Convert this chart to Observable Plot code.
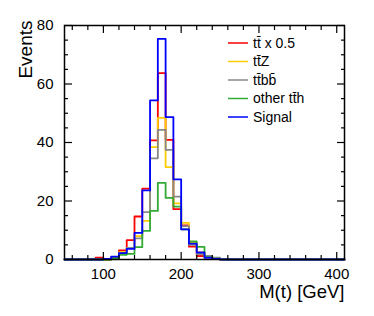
<!DOCTYPE html>
<html><head><meta charset="utf-8">
<script src="https://cdn.jsdelivr.net/npm/d3@7"></script>
<script src="https://cdn.jsdelivr.net/npm/@observablehq/plot@0.6"></script>
<style>
body{margin:0;background:#fff}
#chart{width:374px;height:316px}
</style>
</head><body><div id="chart"></div>
<script>
// bin edges (GeV), 10 GeV bins from 50 to 410
const binEdges = [50,60,70,80,90,100,110,120,130,140,150,160,170,180,190,200,210,220,230,240,250,260,270,280,290,300,310,320,330,340,350,360,370,380,390,400,410];
const seriesNames = ["tt\u0304 x 0.5", "tt\u0304Z", "tt\u0304bb\u0304", "other tt\u0304h", "Signal"];
const seriesColors = ["#ff0000", "#ffcc00", "#888888", "#33aa33", "#0000ff"];
// bin contents per series (bins starting at 50, 60, ..., 400)
const ttbar  = [0,0,0,0,0.6,0,0.8,3.1,6.6,14.7,24.2,40.7,63.7,40.9,17.2,11.7,4.4,1.2,0.9,0.3,0,0,0,0,0,0,0,0,0,0,0,0,0,0,0,0];
const ttZ    = [0,0,0,0,0,0,0.4,2.5,4.0,8.0,13.2,38.4,48.4,31.6,19.2,12.5,5.8,2.4,0.8,0.3,0,0,0.2,0,0,0,0,0,0,0,0,0,0,0,0,0];
const ttbb   = [0,0,0,0,0,0,0.3,2.2,4.0,7.2,16.2,34.6,44.3,37.5,21.5,11.4,5.0,1.8,1.2,0.6,0.2,0,0,0,0,0,0,0,0,0,0,0,0,0,0,0];
const otherTth = [0,0,0,0,0,0,0.5,1.6,1.9,4.2,9.8,16.6,26.2,21.1,18.1,10.3,6.2,4.3,0.8,0.3,0,0,0,0,0,0,0,0,0,0,0,0,0,0,0,0];
const signal = [0,0,0,0,0,0.2,1.0,2.2,3.6,9.1,23.6,54.4,75.4,48.7,27.4,10.3,5.4,2.4,0.6,0.2,0,0,0,0,0,0,0,0,0,0,0,0,0,0,0,0];
const seriesValues = [ttbar, ttZ, ttbb, otherTth, signal];
const xMajorTicks = [100,200,300,400];
const xMinorTicks = [60,80,120,140,160,180,220,240,260,280,320,340,360,380];
const yMajorTicks = [0,20,40,60,80];
const yMinorTicks = [5,10,15,25,30,35,45,50,55,65,70,75];

const rows = [];
seriesNames.forEach((name, s) => {
  const vals = seriesValues[s];
  vals.forEach((v, i) => rows.push({series: name, x: binEdges[i], y: v}));
  rows.push({series: name, x: binEdges[binEdges.length - 1], y: vals[vals.length - 1]});
});

const font = "'Liberation Sans', Arial, Helvetica, sans-serif";
const tick = (anchor, ticks, size, axis) => axis({anchor, ticks, tickSize: -size, text: null, label: null, strokeWidth: 1.2, stroke: "black"});

const plot = Plot.plot({
  width: 374, height: 316,
  marginLeft: 64, marginRight: 30, marginTop: 25, marginBottom: 57,
  style: {fontFamily: font, fontSize: "15px", background: "#fff", color: "#000"},
  x: {domain: [50, 410]},
  y: {domain: [0, 80]},
  color: {domain: seriesNames, range: seriesColors},
  marks: [
    Plot.line(rows, {x: "x", y: "y", z: "series", stroke: "series", curve: "step-after", strokeWidth: 1.8}),
    Plot.frame({stroke: "black", strokeWidth: 1.5}),
    tick("bottom", xMajorTicks, 7, Plot.axisX),
    tick("bottom", xMinorTicks, 4, Plot.axisX),
    tick("top", xMajorTicks, 7, Plot.axisX),
    tick("top", xMinorTicks, 4, Plot.axisX),
    tick("left", yMajorTicks, 8, Plot.axisY),
    tick("left", yMinorTicks, 4, Plot.axisY),
    tick("right", yMajorTicks, 8, Plot.axisY),
    tick("right", yMinorTicks, 4, Plot.axisY),
    Plot.axisX({anchor: "bottom", ticks: xMajorTicks, tickSize: 0, tickPadding: 9, label: null, fontSize: 15}),
    Plot.axisY({anchor: "left", ticks: yMajorTicks, tickSize: 0, tickPadding: 11, label: null, fontSize: 15}),
    Plot.text(["M(t) [GeV]"], {frameAnchor: "bottom-right", textAnchor: "end", dy: 38, fontSize: 18.5}),
    Plot.text(["Events"], {frameAnchor: "top-left", textAnchor: "end", rotate: -90, dx: -46, dy: -5, fontSize: 19})
  ]
});
document.getElementById("chart").appendChild(plot);

// legend
const svg = d3.select(plot);
const leg = svg.append("g").attr("font-family", font).attr("font-size", 14).attr("text-anchor", "start");
const rowsY = [43, 61.5, 80, 98.5, 117];
seriesNames.forEach((name, i) => {
  leg.append("line").attr("x1", 228).attr("x2", 248).attr("y1", rowsY[i]).attr("y2", rowsY[i])
    .attr("stroke", seriesColors[i]).attr("stroke-width", 1.5);
  leg.append("text").attr("x", 253).attr("y", rowsY[i]).attr("dy", "0.35em").attr("fill", "black").text(name);
});
</script>
</body></html>
